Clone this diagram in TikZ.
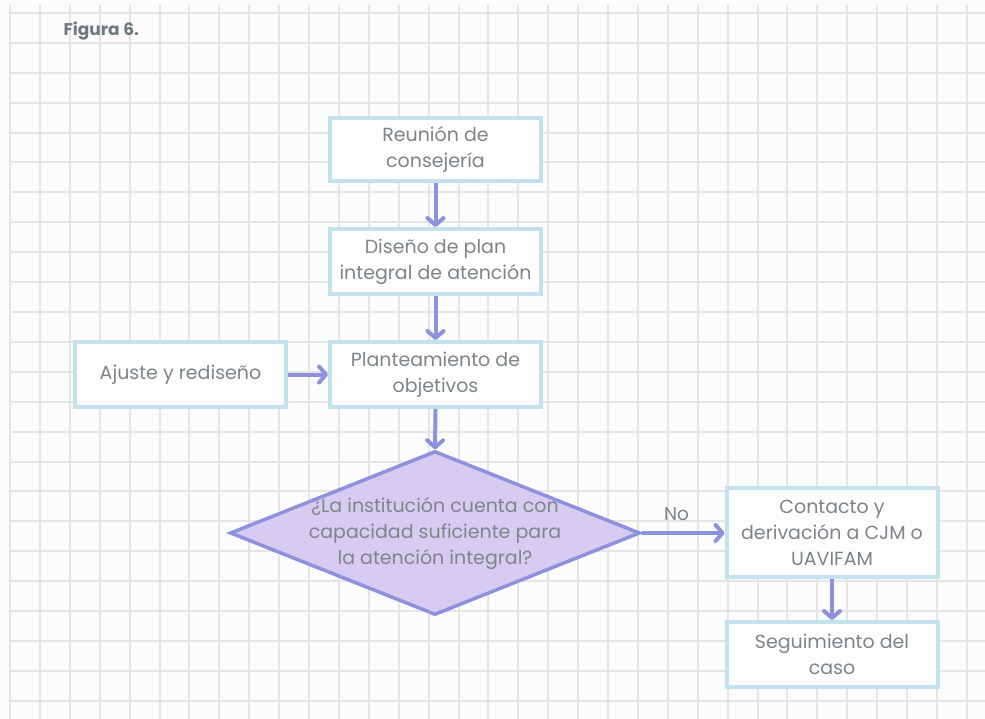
\documentclass[tikz,border=0pt]{standalone}
\usepackage{fontspec}
\setmainfont{Poppins}
\usetikzlibrary{arrows.meta,shapes.geometric}
\definecolor{gridline}{HTML}{E5E5E5}
\definecolor{paper}{HTML}{FCFCFC}
\definecolor{boxline}{HTML}{C4E1EE}
\definecolor{boxfill}{HTML}{FDFDFD}
\definecolor{ink}{HTML}{7E858A}
\definecolor{titleink}{HTML}{6E7A80}
\definecolor{flow}{HTML}{8D92DD}
\definecolor{askfill}{HTML}{D7CBF1}
\tikzset{
  stepbox/.style={draw=boxline, line width=4pt, fill=boxfill, text=ink,
    minimum width=211pt, minimum height=65pt, inner sep=0pt, align=center,
    font=\fontsize{19}{26}\selectfont},
  askbox/.style={diamond, draw=flow, line width=3.5pt, fill=askfill,
    minimum width=410pt, minimum height=164pt, inner sep=0pt},
  asktext/.style={text=ink, align=center, font=\fontsize{19}{26}\selectfont},
  flowarrow/.style={draw=flow, line width=4pt,
    -{Straight Barb[length=7pt,width=16pt,round]}},
  lbl/.style={text=ink, font=\fontsize{18.5}{22}\selectfont}
}
\begin{document}
\begin{tikzpicture}[x=1pt,y=-1pt]
  % page and squared paper
  \fill[paper] (0,0) rectangle (985,719);
  \useasboundingbox (0,0) rectangle (985,719);
  \foreach \i in {0,...,32} {
    \draw[gridline, line width=2pt] (10+29.9*\i,5) -- (10+29.9*\i,719);
  }
  \foreach \j in {0,...,23} {
    \draw[gridline, line width=2pt] (10,13+29.9*\j) -- (985,13+29.9*\j);
  }
  \node[text=titleink, font=\fontsize{17}{20}\selectfont\bfseries, anchor=west]
    (title) at (60,31.5) {Figura 6.};

  % process steps
  \node[stepbox, minimum height=63pt] (meet) at (435.5,149.5) {Reunión de\\consejería};
  \node[stepbox] (plan) at (435.5,261.5) {Diseño de plan\\integral de atención};
  \node[stepbox] (goals) at (435.5,374.5) {Planteamiento de\\objetivos};
  \node[stepbox] (adjust) at (180.5,374.5) {Ajuste y rediseño};
  \node[askbox] (ask) at (435,533) {};
  \node[asktext] (asklabel) at (435,533.5) {¿La institución cuenta con\\capacidad suficiente para\\la atención integral?};
  \node[stepbox, minimum height=89pt] (refer) at (832,532.5) {Contacto y\\derivación a CJM o\\UAVIFAM};
  \node[stepbox] (follow) at (832,654.5) {Seguimiento del\\caso};

  % connectors
  \draw[flowarrow] (meet.south) -- (plan.north);
  \draw[flowarrow] (plan.south) -- (goals.north);
  \draw[flowarrow] (adjust.east) -- (goals.west);
  \draw[flowarrow] (goals.south) -- (ask.north);
  \draw[flowarrow] (ask.east) -- node[lbl, above=7pt, pos=0.42] {No} (ask.east -| refer.west);
  \draw[flowarrow] (refer.south) -- (follow.north);
\end{tikzpicture}
\end{document}
